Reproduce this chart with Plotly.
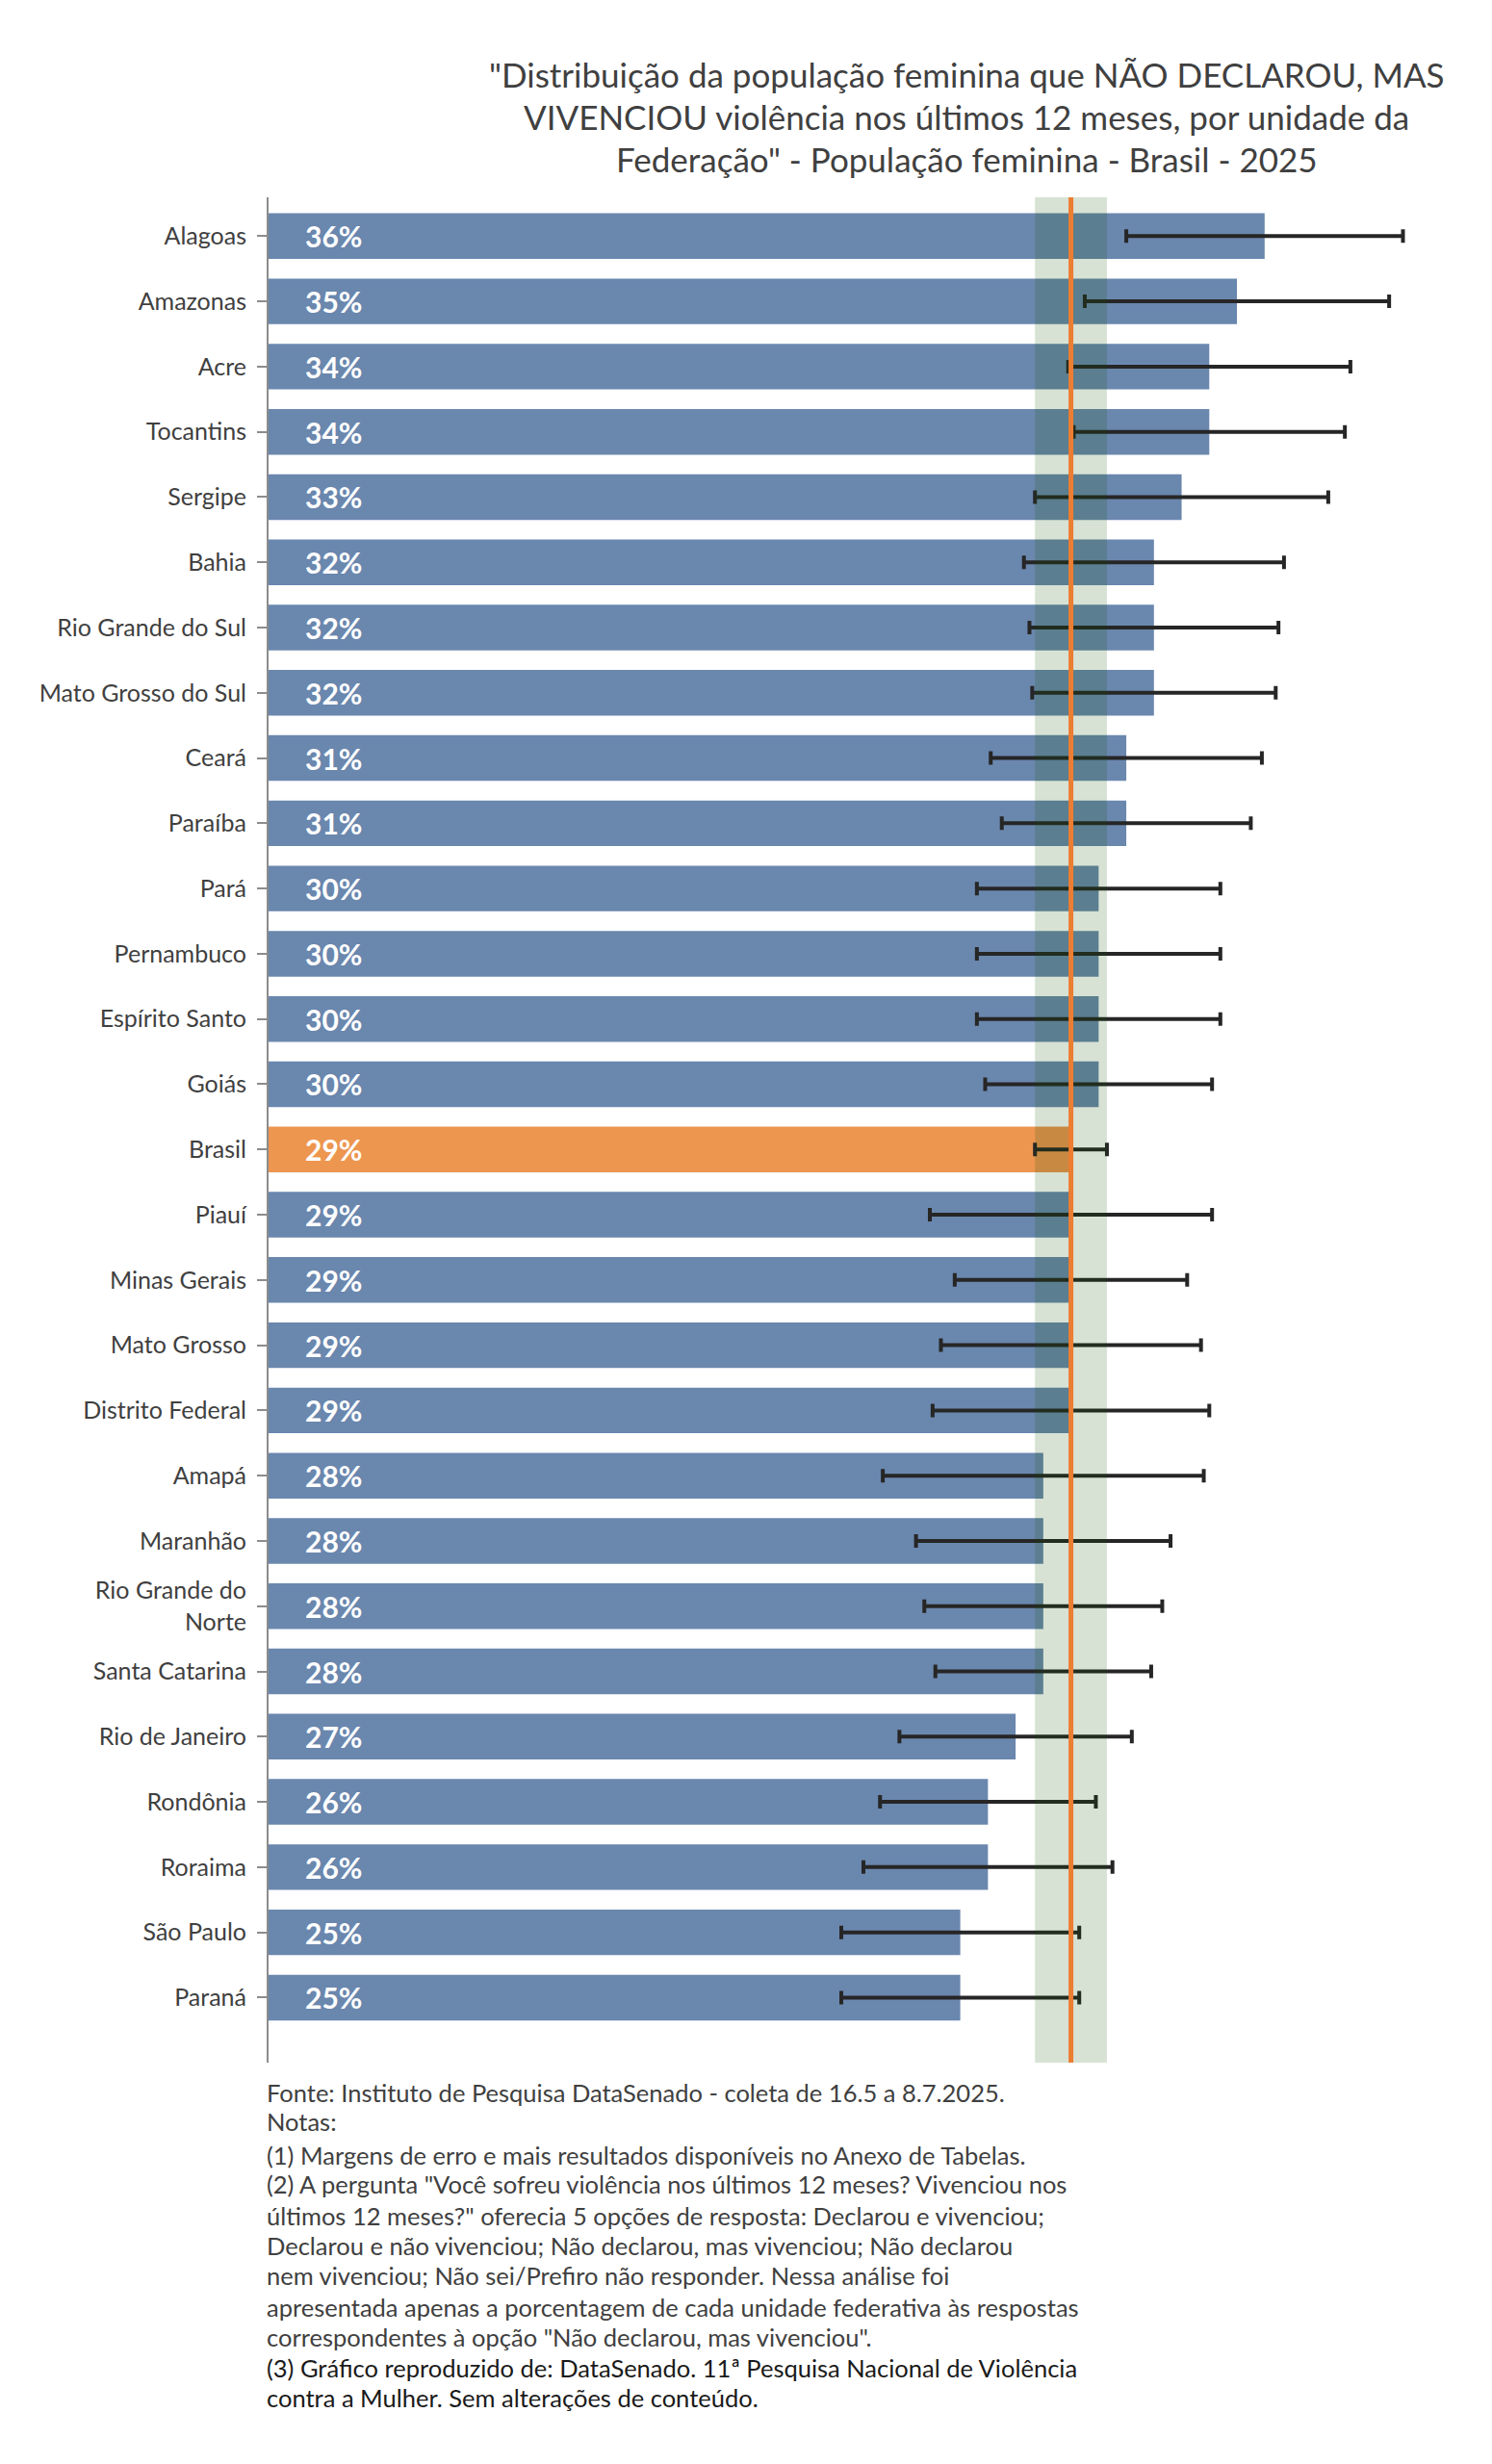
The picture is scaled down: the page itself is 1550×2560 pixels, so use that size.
import plotly.graph_objects as go

# ---------------- data ----------------
states = ["Alagoas", "Amazonas", "Acre", "Tocantins", "Sergipe", "Bahia",
          "Rio Grande do Sul", "Mato Grosso do Sul", "Ceará", "Paraíba", "Pará",
          "Pernambuco", "Espírito Santo", "Goiás", "Brasil", "Piauí",
          "Minas Gerais", "Mato Grosso", "Distrito Federal", "Amapá", "Maranhão",
          "Rio Grande do<br>Norte", "Santa Catarina", "Rio de Janeiro", "Rondônia",
          "Roraima", "São Paulo", "Paraná"]
values = [36, 35, 34, 34, 33, 32, 32, 32, 31, 31, 30, 30, 30, 30, 29, 29, 29, 29,
          29, 28, 28, 28, 28, 27, 26, 26, 25, 25]
margins = [5.0, 5.5, 5.1, 4.9, 5.3, 4.7, 4.5, 4.4, 4.9, 4.5, 4.4, 4.4, 4.4, 4.1,
           1.3, 5.1, 4.2, 4.7, 5.0, 5.8, 4.6, 4.3, 3.9, 4.2, 3.9, 4.5, 4.3, 4.3]
highlight = "Brasil"

title_lines = ["\"Distribuição da população feminina que NÃO DECLAROU, MAS",
               "VIVENCIOU violência nos últimos 12 meses, por unidade da",
               "Federação\" - População feminina - Brasil - 2025"]
title_y_px = [69, 113, 157]

footer_lines = [
    "Fonte: Instituto de Pesquisa DataSenado - coleta de 16.5 a 8.7.2025.",
    "Notas:",
    "(1) Margens de erro e mais resultados disponíveis no Anexo de Tabelas.",
    "(2) A pergunta \"Você sofreu violência nos últimos 12 meses? Vivenciou nos",
    "últimos 12 meses?\" oferecia 5 opções de resposta: Declarou e vivenciou;",
    "Declarou e não vivenciou; Não declarou, mas vivenciou; Não declarou",
    "nem vivenciou; Não sei/Prefiro não responder. Nessa análise foi",
    "apresentada apenas a porcentagem de cada unidade federativa às respostas",
    "correspondentes à opção \"Não declarou, mas vivenciou\".",
    "(3) Gráfico reproduzido de: DataSenado. 11ª Pesquisa Nacional de Violência",
    "contra a Mulher. Sem alterações de conteúdo.",
]
footer_y_px = [2166, 2196, 2231, 2261, 2294, 2325, 2356, 2389, 2420, 2452, 2483]
footer_colors = ["#404040"] * 9 + ["#1a1a1a"] * 2

# ---------------- styling ----------------
W, H = 1550, 2560
M_L, M_R, M_T, M_B = 271, 43, 197, 425
BLUE = "#6A87AE"
ORANGE = "#ED9650"
FONT = "Lato"
TITLE_CENTER_X = 996

bi = states.index(highlight)
bra_val, bra_m = values[bi], margins[bi]
colors = [ORANGE if s == highlight else BLUE for s in states]

plot_w = W - M_L - M_R
plot_h = H - M_T - M_B


def px_x(px):
    return (px - M_L) / plot_w


def px_y(py):
    return (H - M_B - py) / plot_h


fig = go.Figure()
fig.add_trace(go.Bar(
    x=values, y=states, orientation="h",
    marker=dict(color=colors, line=dict(width=0)),
    error_x=dict(type="data", array=margins, visible=True,
                 color="#262626", thickness=4, width=7),
    hoverinfo="x+y",
))

# percentage labels inside the bars
for s, v in zip(states, values):
    fig.add_annotation(x=0, y=s, xref="x", yref="y", text=f"{v}%",
                       showarrow=False, xanchor="left", yanchor="middle",
                       xshift=36, font=dict(family=FONT, size=30, color="white",
                                            weight="bold"))

# confidence band of Brasil and Brasil reference line
fig.add_shape(type="rect", xref="x", yref="paper",
              x0=bra_val - bra_m, x1=bra_val + bra_m, y0=0, y1=1,
              fillcolor="rgba(20,83,2,0.17)", line=dict(width=0), layer="above")
fig.add_shape(type="line", xref="x", yref="paper",
              x0=bra_val, x1=bra_val, y0=0, y1=1,
              line=dict(color="#ED7D31", width=5), layer="above")

# title (one annotation per line)
for txt, ypx in zip(title_lines, title_y_px):
    fig.add_annotation(xref="paper", yref="paper", x=px_x(TITLE_CENTER_X),
                       y=px_y(ypx), text=txt, showarrow=False,
                       xanchor="center", yanchor="middle", align="center",
                       font=dict(family=FONT, size=35, color="#404040"))

# footer
for txt, ypx, col in zip(footer_lines, footer_y_px, footer_colors):
    fig.add_annotation(xref="paper", yref="paper", x=0, xshift=-4,
                       y=px_y(ypx), text=txt, showarrow=False,
                       xanchor="left", yanchor="middle", align="left",
                       font=dict(family=FONT, size=25.5, color=col))

fig.update_layout(
    width=W, height=H,
    margin=dict(l=M_L, r=M_R, t=M_T, b=M_B),
    paper_bgcolor="white", plot_bgcolor="white",
    showlegend=False, bargap=0.3,
    xaxis=dict(range=[0, 43], visible=False, showgrid=False, zeroline=False),
    yaxis=dict(categoryorder="array", categoryarray=states,
               range=[len(states) - 0.003, -0.595],
               showline=True, linecolor="#8C8C8C", linewidth=2,
               ticks="outside", ticklen=10, tickwidth=2, tickcolor="#8C8C8C",
               ticklabelstandoff=6,
               tickfont=dict(family=FONT, size=25, color="#404040"),
               showgrid=False, zeroline=False),
)

fig.write_html("out.html")
